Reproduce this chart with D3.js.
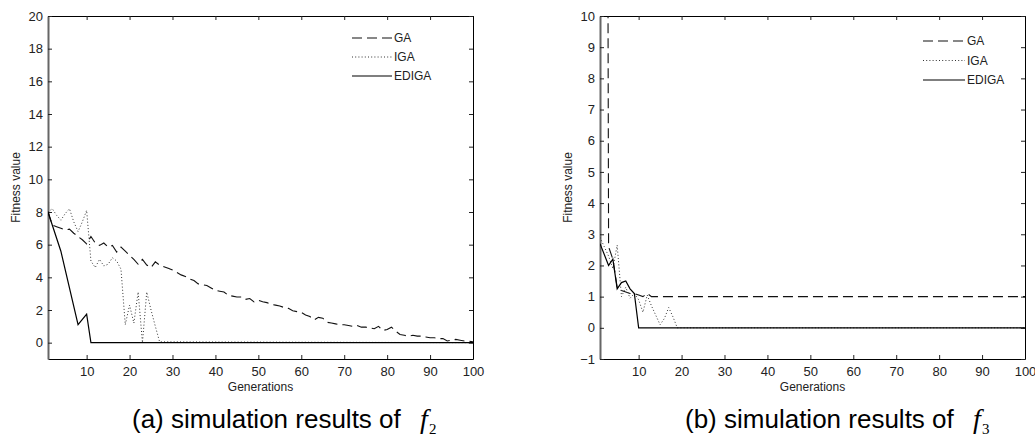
<!DOCTYPE html>
<html>
<head>
<meta charset="utf-8">
<script src="https://cdn.jsdelivr.net/npm/d3@7"></script>
<style>
    body { margin: 0; background: #fff; }
    svg { display: block; font-family: Arial, "Liberation Sans", sans-serif; }
</style>
</head>
<body>
<svg id="chart" width="1035" height="438"></svg>
<script>
// Tick labels
const xTicks = [10, 20, 30, 40, 50, 60, 70, 80, 90, 100];
const yTicksF2 = [0, 2, 4, 6, 8, 10, 12, 14, 16, 18, 20];
const yTicksF3 = [-1, 0, 1, 2, 3, 4, 5, 6, 7, 8, 9, 10];
const seriesNames = ["GA", "IGA", "EDIGA"];

// (a) f2
const genGA2 = d3.range(1, 101);
const valGA2 = [8.0, 7.2, 7.1, 7.0, 6.9, 6.95, 6.7, 6.5, 6.3, 6.05,
    6.5, 6.1, 5.95, 6.1, 5.85, 5.95, 5.55, 5.85, 5.6, 5.35,
    5.1, 4.8, 5.1, 4.75, 4.6, 4.95, 4.75, 4.65, 4.55, 4.45,
    4.3, 4.15, 4.05, 3.9, 3.8, 3.6, 3.55, 3.5, 3.35, 3.2,
    3.15, 3.1, 2.9, 2.85, 2.8, 2.8, 2.65, 2.7, 2.5, 2.6,
    2.5, 2.45, 2.35, 2.3, 2.25, 2.15, 2.1, 1.95, 1.9, 1.85,
    1.7, 1.6, 1.4, 1.55, 1.5, 1.25, 1.2, 1.15, 1.1, 1.1,
    1.05, 1.0, 1.05, 0.95, 0.95, 0.9, 0.85, 1.0, 0.75, 0.8,
    0.95, 0.7, 0.5, 0.45, 0.4, 0.45, 0.4, 0.4, 0.35, 0.3,
    0.3, 0.25, 0.25, 0.1, 0.15, 0.2, 0.15, 0.1, 0.1, 0.05];
const genIGA2 = [1, 2, 3, 4, 5, 6, 7, 8, 9, 10, 11, 12, 13, 14, 15, 16, 17, 18, 19, 20, 21, 22, 23, 24, 25, 26, 27, 100];
const valIGA2 = [8.0, 8.2, 7.8, 7.5, 7.9, 8.2, 7.4, 6.8, 7.4, 8.1, 5.0, 4.6, 5.1, 4.7, 4.8, 5.2, 5.0, 4.5, 1.1, 2.3, 1.2, 3.1, 0.0, 3.1, 2.0, 1.0, 0.05, 0];
const genEDIGA2 = [1, 4, 8, 10, 11, 100];
const valEDIGA2 = [8.0, 5.6, 1.1, 1.75, 0, 0];

// (b) f3 - GA starts far above the axis limit
const genGA3 = [1, 2, 3, 4, 5, 6, 7, 8, 9, 10, 11, 12, 13, 100];
const valGA3 = [80, 60, 2.6, 2.2, 1.3, 1.2, 1.15, 1.1, 1.1, 1.05, 1.0, 1.1, 1.0, 1.0];
const genIGA3 = [1, 2, 3, 4, 5, 6, 7, 8, 9, 10, 11, 12, 13, 14, 15, 16, 17, 18, 19, 100];
const valIGA3 = [2.9, 2.6, 2.3, 1.9, 2.65, 1.0, 1.3, 0.95, 1.1, 0.9, 0.5, 1.05, 0.7, 0.4, 0.1, 0.3, 0.65, 0.35, 0.0, 0.0];
const genEDIGA3 = [1, 3, 4, 5, 6, 7, 8, 9, 10, 100];
const valEDIGA3 = [2.7, 2.0, 2.2, 1.25, 1.45, 1.5, 1.25, 1.1, 0, 0];

const svg = d3.select("#chart");
const plotTop = 16, plotBottom = 359;

const lineStyles = {
    GA: { dash: "10,5", color: "#111", width: 1.1 },
    IGA: { dash: "1,2.2", color: "#333", width: 1 },
    EDIGA: { dash: null, color: "#000", width: 1.2 }
};

const panels = [
    {
        id: "a", left: 48, right: 473, yDomain: [-1, 20], yTicks: yTicksF2,
        series: { GA: [genGA2, valGA2], IGA: [genIGA2, valIGA2], EDIGA: [genEDIGA2, valEDIGA2] },
        legend: { x0: 352, x1: 392, y: 38, step: 19 },
        caption: "(a) simulation results of", sub: "2", capX: 132
    },
    {
        id: "b", left: 600, right: 1025, yDomain: [-1, 10], yTicks: yTicksF3,
        series: { GA: [genGA3, valGA3], IGA: [genIGA3, valIGA3], EDIGA: [genEDIGA3, valEDIGA3] },
        legend: { x0: 923, x1: 965, y: 41, step: 19.5 },
        caption: "(b) simulation results of", sub: "3", capX: 685
    }
];

panels.forEach(drawPanel);

function drawPanel(p) {
    const x = d3.scaleLinear().domain([1, 100]).range([p.left, p.right]);
    const y = d3.scaleLinear().domain(p.yDomain).range([plotBottom, plotTop]);
    const g = svg.append("g");

    g.append("clipPath").attr("id", "clip-" + p.id)
        .append("rect")
        .attr("x", p.left).attr("y", plotTop)
        .attr("width", p.right - p.left).attr("height", plotBottom - plotTop);

    // axes, ticks pointing inward like matlab
    g.append("g")
        .attr("transform", `translate(0,${plotBottom})`)
        .call(d3.axisBottom(x).tickValues(xTicks).tickSizeInner(-4).tickSizeOuter(0).tickPadding(8));
    g.append("g")
        .attr("transform", `translate(0,${plotTop})`)
        .call(d3.axisTop(x).tickValues(xTicks).tickFormat("").tickSizeInner(-4).tickSizeOuter(0));
    const leftAx = g.append("g")
        .attr("transform", `translate(${p.left},0)`)
        .call(d3.axisLeft(y).tickValues(p.yTicks).tickSizeInner(-4).tickSizeOuter(0).tickPadding(5));
    g.append("g")
        .attr("transform", `translate(${p.right},0)`)
        .call(d3.axisRight(y).tickValues(p.yTicks).tickFormat("").tickSizeInner(-4).tickSizeOuter(0));

    g.selectAll(".tick text")
        .attr("font-family", "Arial, 'Liberation Sans', sans-serif")
        .attr("font-size", 13)
        .attr("fill", "#222");
    g.selectAll(".tick line").attr("stroke", "#222");
    g.selectAll(".domain").attr("stroke", "#000");
    leftAx.select(".domain").attr("stroke", "#666").attr("stroke-width", 2);

    // series
    const line = d3.line().x(d => x(d[0])).y(d => y(d[1]));
    seriesNames.forEach(name => {
        const [gens, vals] = p.series[name];
        const pts = gens.map((gn, i) => [gn, vals[i]]);
        const st = lineStyles[name];
        g.append("path")
            .datum(pts)
            .attr("clip-path", `url(#clip-${p.id})`)
            .attr("fill", "none")
            .attr("stroke", st.color)
            .attr("stroke-width", st.width)
            .attr("stroke-dasharray", st.dash)
            .attr("d", line);
    });

    // legend
    seriesNames.forEach((name, i) => {
        const st = lineStyles[name];
        const ly = p.legend.y + i * p.legend.step;
        g.append("line")
            .attr("x1", p.legend.x0).attr("x2", p.legend.x1)
            .attr("y1", ly).attr("y2", ly)
            .attr("stroke", st.color)
            .attr("stroke-width", st.width)
            .attr("stroke-dasharray", st.dash);
        g.append("text")
            .attr("x", p.legend.x1 + 2).attr("y", ly + 4.3)
            .attr("font-size", 12)
            .attr("fill", "#222")
            .text(name);
    });

    // axis labels
    g.append("text")
        .attr("x", (p.left + p.right) / 2).attr("y", 391)
        .attr("text-anchor", "middle")
        .attr("font-size", 12)
        .attr("fill", "#222")
        .text("Generations");
    g.append("text")
        .attr("transform", `translate(${p.left - 28},${(plotTop + plotBottom) / 2}) rotate(-90)`)
        .attr("text-anchor", "middle")
        .attr("font-size", 12)
        .attr("fill", "#222")
        .text("Fitness value");

    // caption
    g.append("text")
        .attr("x", p.capX).attr("y", 428)
        .attr("font-size", 26)
        .attr("fill", "#000")
        .text(p.caption);
    g.append("text")
        .attr("x", p.capX + 288).attr("y", 428)
        .attr("font-family", "'Liberation Serif', 'Times New Roman', serif")
        .attr("font-style", "italic")
        .attr("font-size", 28)
        .text("f");
    g.append("text")
        .attr("x", p.capX + 297).attr("y", 434)
        .attr("font-family", "'Liberation Serif', 'Times New Roman', serif")
        .attr("font-size", 15)
        .text(p.sub);
}
</script>
</body>
</html>
